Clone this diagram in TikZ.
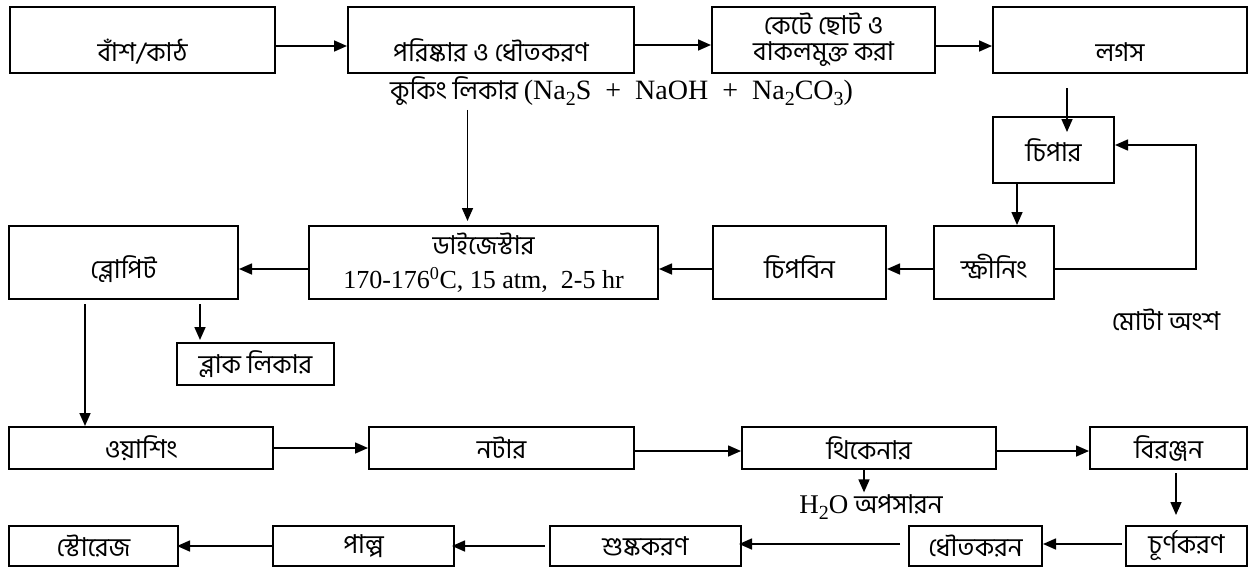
\documentclass[tikz,border=0pt]{standalone}
\usepackage{fontspec}
\setmainfont{Hind Siliguri}[Script=Bengali]
\newfontfamily\tm{Liberation Serif}
\newcommand\sbs[1]{\raisebox{-0.22em}{\fontsize{20}{20}\selectfont #1}}
\usetikzlibrary{arrows.meta}
\tikzset{
  box/.style={draw, line width=2pt, rectangle, inner sep=0pt, align=center, font=\fontsize{26}{30}\selectfont},
  toptext/.style={text height=42pt, text depth=0pt},
  midtext/.style={text height=32pt, text depth=0pt},
  arr/.style={line width=1.6pt, -{Triangle[length=13pt,width=11pt]}},
  lbl/.style={inner sep=0pt, font=\fontsize{26}{30}\selectfont}
}
\begin{document}
\begin{tikzpicture}[x=1pt,y=-1pt]
\useasboundingbox (0,0) rectangle (1252,571);
% top row
\node[box, toptext, minimum width=265, minimum height=66] (bamboo) at (142.5,40) {বাঁশ/কাঠ};
\node[box, toptext, minimum width=286, minimum height=66] (clean) at (491,40) {পরিষ্কার ও ধৌতকরণ};
\node[box, minimum width=223, minimum height=66] (cut) at (823.5,40) {কেটে ছোট ও\\[-4pt]বাকলমুক্ত করা};
\node[box, toptext, minimum width=254, minimum height=66] (logs) at (1120,40) {লগস};
\node[box, minimum width=121, minimum height=66] (chipper) at (1053.5,150) {চিপার};
% second row
\node[box, midtext, minimum width=120, minimum height=73] (screen) at (994,262.5) {স্ক্রীনিং};
\node[box, midtext, minimum width=173, minimum height=73] (chipbin) at (799.5,262.5) {চিপবিন};
\node[box, minimum width=349, minimum height=73] (dig) at (483.5,262.5) {ডাইজেস্টার\\[4pt]{\tm\fontsize{26}{30}\selectfont 170-176\textsuperscript{0}C, 15 atm,\ \ 2-5 hr}};
\node[box, midtext, minimum width=229, minimum height=73] (blow) at (123.5,262.5) {ব্লোপিট};
\node[box, minimum width=157, minimum height=42] (black) at (255.5,364) {ব্লাক লিকার};
% third row
\node[box, minimum width=264, minimum height=42] (wash) at (141,448) {ওয়াশিং};
\node[box, minimum width=265, minimum height=42] (knot) at (501.5,448) {নটার};
\node[box, minimum width=254, minimum height=42] (thick) at (869,448) {থিকেনার};
\node[box, minimum width=157, minimum height=42] (bleach) at (1168.5,448) {বিরঞ্জন};
% bottom row
\node[box, minimum width=169, minimum height=40] (store) at (93.5,546) {স্টোরেজ};
\node[box, minimum width=181, minimum height=40] (pulp) at (363.5,546) {পাল্প};
\node[box, minimum width=191, minimum height=40] (dry) at (645.5,546) {শুষ্ককরণ};
\node[box, minimum width=133, minimum height=40] (wash2) at (975.5,546) {ধৌতকরন};
\node[box, minimum width=121, minimum height=40] (grind) at (1186.5,546) {চূর্ণকরণ};
% labels
\node[lbl, anchor=west] (cook) at (390,91) {কুকিং লিকার {\tm\fontsize{28}{30}\selectfont (Na\sbs{2}S\hspace{0.5em}+\hspace{0.5em}NaOH\hspace{0.5em}+\hspace{0.5em}Na\sbs{2}CO\sbs{3})}};
\node[lbl] (coarse) at (1166,320) {মোটা অংশ};
\node[lbl] (water) at (871,507) {{\tm\fontsize{27}{30}\selectfont H\sbs{2}O} অপসারন};
% connectors top row
\draw[arr] ([yshift=-6pt]bamboo.east) -- ([yshift=-6pt]clean.west);
\draw[arr] ([yshift=-5pt]clean.east) -- ([yshift=-5pt]cut.west);
\draw[arr] ([yshift=-6pt]cut.east) -- ([yshift=-6pt]logs.west);
\draw[arr] ([xshift=-53pt,yshift=-14pt]logs.south) -- ([xshift=13.5pt,yshift=-16pt]chipper.north);
\draw[arr] ([xshift=-36.5pt]chipper.south) -- ([xshift=23pt]screen.north);
\coordinate (fb) at (1196,145);
\draw[arr] ([yshift=-6.5pt]screen.east) -| (fb) -- (fb -| chipper.east);
% second row
\draw[arr] ([yshift=-6.5pt]screen.west) -- ([yshift=-6.5pt]chipbin.east);
\draw[arr] ([yshift=-6.5pt]chipbin.west) -- ([yshift=-6.5pt]dig.east);
\draw[arr] ([yshift=-6.5pt]dig.west) -- ([yshift=-6.5pt]blow.east);
\coordinate (dtop) at ([xshift=-16pt,yshift=4pt]dig.north);
\draw[arr] ([yshift=-4pt]cook.south -| dtop) -- (dtop);
\draw[arr] ([xshift=76.5pt,yshift=-4pt]blow.south) -- ([xshift=-55.5pt,yshift=2pt]black.north);
\draw[arr] ([xshift=-38.5pt,yshift=-4pt]blow.south) -- ([xshift=-56pt]wash.north);
% third row
\draw[arr] (wash.east) -- (knot.west);
\draw[arr] ([yshift=-3pt]knot.east) -- ([yshift=-3pt]thick.west);
\draw[arr] ([yshift=-3pt]thick.east) -- ([yshift=-3pt]bleach.west);
\coordinate (tdown) at ([xshift=-5pt]thick.south);
\draw[arr] (tdown) -- ([yshift=2pt]water.north -| tdown);
\draw[arr] ([xshift=7.5pt,yshift=-3pt]bleach.south) -- ([xshift=-10.5pt,yshift=10pt]grind.north);
% bottom row
\draw[arr] ([xshift=-3pt,yshift=2pt]grind.west) -- ([yshift=2pt]wash2.east);
\draw[arr] ([xshift=-8pt,yshift=2pt]wash2.west) -- ([xshift=-3pt,yshift=2pt]dry.east);
\draw[arr] ([xshift=-4pt]dry.west) -- ([xshift=-3pt]pulp.east);
\draw[arr] (pulp.west) -- ([xshift=-2pt]store.east);
\end{tikzpicture}
\end{document}
